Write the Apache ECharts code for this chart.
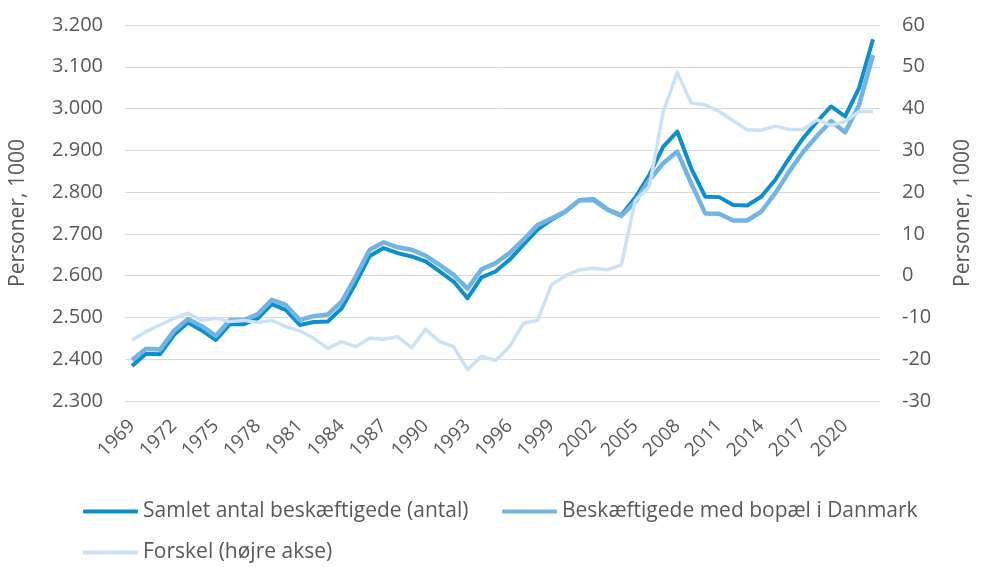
<!DOCTYPE html>
<html>
<head>
<meta charset="utf-8">
<script src="https://cdn.jsdelivr.net/npm/echarts@6/dist/echarts.min.js"></script>
<style>
html,body{margin:0;padding:0;background:#fff;}
#chart{width:982px;height:567px;}
</style>
</head>
<body>
<div id="chart"></div>
<script>
var years = [];
for (var y = 1969; y <= 2022; y++) years.push(String(y));

var seriesNames = ['Samlet antal beskæftigede (antal)', 'Beskæftigede med bopæl i Danmark', 'Forskel (højre akse)'];

// Persons, 1000 (left axis)
var samlet = [2384, 2413, 2412, 2458, 2488, 2469, 2446, 2484, 2484, 2498, 2532, 2518,
  2482, 2489, 2490, 2522, 2582, 2647, 2666, 2654, 2646, 2634, 2610, 2586,
  2546, 2596, 2610, 2638, 2674, 2710, 2734, 2753, 2781, 2783, 2759, 2745,
  2787, 2841, 2909, 2945, 2857, 2789, 2788, 2769, 2768, 2789, 2829, 2881,
  2929, 2969, 3005, 2981, 3049, 3166];

var bopael = [2398, 2425, 2423, 2468, 2496, 2479, 2456, 2494, 2494, 2508, 2542, 2530,
  2494, 2503, 2507, 2538, 2598, 2662, 2680, 2668, 2662, 2648, 2626, 2602,
  2569, 2615, 2630, 2654, 2686, 2721, 2737, 2754, 2780, 2781, 2758, 2743,
  2777, 2829, 2869, 2897, 2821, 2749, 2748, 2732, 2732, 2753, 2797, 2849,
  2896, 2935, 2970, 2943, 3008, 3128];

// Difference, 1000 (right axis)
var forskel = [-15.4, -13.4, -11.8, -10.2, -9.0, -10.7, -10.2, -11.0, -10.7, -11.2, -10.7, -12.2,
  -13.2, -15.0, -17.4, -15.8, -17.0, -15.0, -15.2, -14.6, -17.3, -12.8, -15.8, -17.0,
  -22.5, -19.3, -20.3, -17.0, -11.4, -10.7, -2.2, 0.0, 1.4, 1.8, 1.4, 2.6,
  18.0, 21.3, 39.3, 48.6, 41.3, 40.9, 39.3, 37.1, 34.9, 34.8, 35.8, 35.0,
  35.0, 37.3, 36.0, 36.9, 39.3, 39.3];

var colors = ['#0b8fd0', '#72b5e5', '#cde1f5'];
var textColor = '#595959';
var fontFam = '"Open Sans", "Noto Sans", sans-serif';

function fmtLeft(v) {
  var t = Math.floor(v / 1000);
  var r = String(v % 1000);
  while (r.length < 3) r = '0' + r;
  return t + '.' + r;
}

var chart = echarts.init(document.getElementById('chart'), null, {renderer: 'canvas'});

function legendItem(name, left, top) {
  return {
    data: [name],
    left: left,
    top: top,
    orient: 'horizontal',
    itemWidth: 55,
    itemHeight: 4,
    itemGap: 10,
    icon: 'roundRect',
    textStyle: {color: textColor, fontSize: 21, fontFamily: fontFam}
  };
}

var option = {
  animation: false,
  backgroundColor: '#ffffff',
  color: colors,
  grid: {left: 122, right: 90, top: 25, bottom: 166, containLabel: false},
  legend: [
    legendItem(seriesNames[0], 78, 496),
    legendItem(seriesNames[1], 497, 496),
    legendItem(seriesNames[2], 78, 537)
  ],
  xAxis: {
    type: 'category',
    data: years,
    boundaryGap: true,
    axisLine: {show: true, lineStyle: {color: '#d9d9d9', width: 1}},
    axisTick: {show: false},
    axisLabel: {
      interval: 2,
      rotate: 45,
      margin: 22,
      color: textColor,
      fontSize: 19,
      fontFamily: fontFam
    },
    splitLine: {show: false}
  },
  yAxis: [
    {
      type: 'value',
      min: 2300,
      max: 3200,
      interval: 100,
      position: 'left',
      name: 'Personer, 1000',
      nameLocation: 'middle',
      nameGap: 96,
      nameRotate: 90,
      nameTextStyle: {color: textColor, fontSize: 21, fontFamily: fontFam},
      axisLine: {show: false},
      axisTick: {show: false},
      axisLabel: {color: textColor, fontSize: 20, fontFamily: fontFam, margin: 22, formatter: fmtLeft},
      splitLine: {show: true, lineStyle: {color: '#d9d9d9', width: 1}}
    },
    {
      type: 'value',
      min: -30,
      max: 60,
      interval: 10,
      position: 'right',
      name: 'Personer, 1000',
      nameLocation: 'middle',
      nameGap: 73,
      nameRotate: 90,
      nameTextStyle: {color: textColor, fontSize: 21, fontFamily: fontFam},
      axisLine: {show: false},
      axisTick: {show: false},
      axisLabel: {color: textColor, fontSize: 20, fontFamily: fontFam, margin: 22},
      splitLine: {show: false}
    }
  ],
  series: [
    {
      name: seriesNames[0],
      type: 'line',
      data: samlet,
      yAxisIndex: 0,
      showSymbol: false,
      symbol: 'none',
      lineStyle: {width: 4, color: colors[0], join: 'round'},
      itemStyle: {color: colors[0]},
      z: 2
    },
    {
      name: seriesNames[1],
      type: 'line',
      data: bopael,
      yAxisIndex: 0,
      showSymbol: false,
      symbol: 'none',
      lineStyle: {width: 4.5, color: colors[1], join: 'round'},
      itemStyle: {color: colors[1]},
      z: 3
    },
    {
      name: seriesNames[2],
      type: 'line',
      data: forskel,
      yAxisIndex: 1,
      showSymbol: false,
      symbol: 'none',
      lineStyle: {width: 3.5, color: colors[2], join: 'round'},
      itemStyle: {color: colors[2]},
      z: 4
    }
  ]
};
chart.setOption(option);
</script>
</body>
</html>
